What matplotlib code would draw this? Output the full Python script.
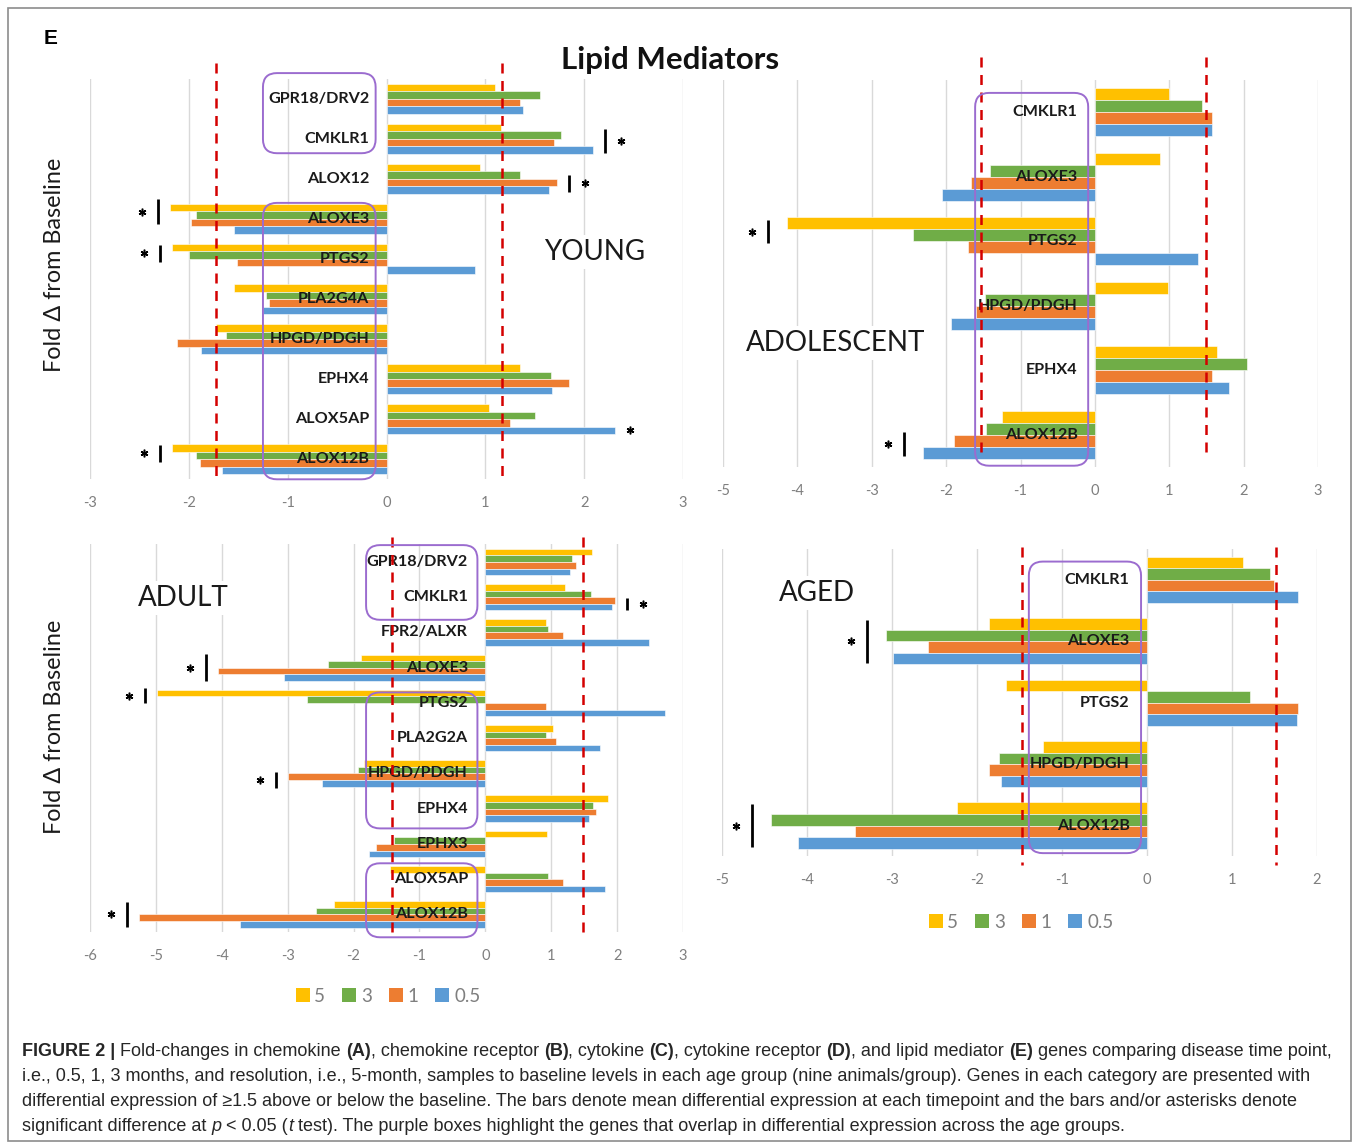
"""
    Lipid mediator fold changes per age group (Figure 2E)
"""
import numpy as np
import matplotlib
matplotlib.use("Agg")
from matplotlib import pyplot as plt
from matplotlib.patches import FancyBboxPatch, Patch, Rectangle
from matplotlib.transforms import IdentityTransform
from matplotlib.font_manager import FontProperties

W, H = 1360, 1145

SERIES = ["5", "3", "1", "0.5"]
COLORS = ["#FFC000", "#70AD47", "#ED7D31", "#5B9BD5"]

# --- YOUNG
young_genes = ["GPR18/DRV2", "CMKLR1", "ALOX12", "ALOXE3", "PTGS2", "PLA2G4A",
               "HPGD/PDGH", "EPHX4", "ALOX5AP", "ALOX12B"]
young_5 = [1.10, 1.16, 0.95, -2.19, -2.17, -1.54, -1.73, 1.35, 1.04, -2.17]
young_3 = [1.55, 1.77, 1.35, -1.93, -2.00, -1.22, -1.62, 1.66, 1.50, -1.93]
young_1 = [1.35, 1.69, 1.73, -1.98, -1.51, -1.19, -2.12, 1.85, 1.25, -1.89]
young_05 = [1.38, 2.09, 1.64, -1.54, 0.90, -1.25, -1.88, 1.67, 2.31, -1.66]
# significant genes: (gene, bar length in rows, 0 = star only, vertical shift)
young_sig = [("CMKLR1", 0.60, 0.06), ("ALOX12", 0.42, 0.11), ("ALOXE3", 0.62, -0.18),
             ("PTGS2", 0.42, -0.14), ("ALOX5AP", 0.0, 0.27), ("ALOX12B", 0.42, -0.15)]

# --- ADOLESCENT
adolescent_genes = ["CMKLR1", "ALOXE3", "PTGS2", "HPGD/PDGH", "EPHX4", "ALOX12B"]
adolescent_5 = [1.00, 0.88, -4.14, 0.98, 1.64, -1.25]
adolescent_3 = [1.44, -1.41, -2.45, -1.48, 2.05, -1.46]
adolescent_1 = [1.57, -1.67, -1.70, -1.60, 1.58, -1.89]
adolescent_05 = [1.57, -2.06, 1.38, -1.94, 1.81, -2.31]
adolescent_sig = [("PTGS2", 0.36, -0.15), ("ALOX12B", 0.37, 0.15)]

# --- ADULT
adult_genes = ["GPR18/DRV2", "CMKLR1", "FPR2/ALXR", "ALOXE3", "PTGS2", "PLA2G2A",
               "HPGD/PDGH", "EPHX4", "EPHX3", "ALOX5AP", "ALOX12B"]
adult_5 = [1.62, 1.21, 0.92, -1.88, -4.99, 1.02, -1.84, 1.86, 0.93, -1.45, -2.29]
adult_3 = [1.31, 1.61, 0.95, -2.39, -2.71, 0.92, -1.94, 1.63, -1.38, 0.95, -2.57]
adult_1 = [1.38, 1.97, 1.18, -4.05, 0.92, 1.07, -3.00, 1.68, -1.66, 1.18, -5.26]
adult_05 = [1.29, 1.92, 2.48, -3.05, 2.73, 1.74, -2.48, 1.58, -1.77, 1.82, -3.72]
adult_sig = [("CMKLR1", 0.33, 0.19), ("ALOXE3", 0.76, 0.0), ("PTGS2", 0.43, -0.2),
             ("HPGD/PDGH", 0.45, 0.18), ("ALOX12B", 0.73, 0.0)]

# --- AGED
aged_genes = ["CMKLR1", "ALOXE3", "PTGS2", "HPGD/PDGH", "ALOX12B"]
aged_5 = [1.13, -1.86, -1.66, -1.22, -2.24]
aged_3 = [1.45, -3.07, 1.21, -1.74, -4.42]
aged_1 = [1.49, -2.58, 1.78, -1.86, -3.43]
aged_05 = [1.78, -2.99, 1.76, -1.72, -4.11]
aged_sig = [("ALOXE3", 0.69, 0.0), ("ALOX12B", 0.69, 0.0)]

CAPTION = [
    [("FIGURE 2 | ", "bold", "normal"), ("Fold-changes in chemokine ", "normal", "normal"),
     ("(A)", "bold", "normal"), (", chemokine receptor ", "normal", "normal"),
     ("(B)", "bold", "normal"), (", cytokine ", "normal", "normal"),
     ("(C)", "bold", "normal"), (", cytokine receptor ", "normal", "normal"),
     ("(D)", "bold", "normal"), (", and lipid mediator ", "normal", "normal"),
     ("(E)", "bold", "normal"), (" genes comparing disease time point,", "normal", "normal")],
    [("i.e., 0.5, 1, 3 months, and resolution, i.e., 5-month, samples to baseline levels in each "
      "age group (nine animals/group). Genes in each category are presented with", "normal", "normal")],
    [("differential expression of \u22651.5 above or below the baseline. The bars denote mean "
      "differential expression at each timepoint and the bars and/or asterisks denote", "normal", "normal")],
    [("significant difference at ", "normal", "normal"), ("p", "normal", "italic"),
     (" < 0.05 (", "normal", "normal"), ("t", "normal", "italic"),
     (" test). The purple boxes highlight the genes that overlap in differential expression "
      "across the age groups.", "normal", "normal")],
]

plt.rcParams["font.family"] = ["Lato", "DejaVu Sans"]
plt.rcParams["axes.unicode_minus"] = False

RED = "#D40000"
PURPLE = "#9B6CCF"


def px_rect(left, top, right, bottom):
    return [left / W, 1 - bottom / H, (right - left) / W, (bottom - top) / H]


def draw_panel(fig, rect_px, xlim, genes, values, sig, boxes, box_x, cutoffs,
               dash_rows, sig_gap):
    ax = fig.add_axes(px_rect(*rect_px))
    n = len(genes)
    rows = np.arange(n)
    bar_h = 0.75 / 4
    for i, (vals, color) in enumerate(zip(values, COLORS)):
        ax.barh(rows - 0.375 + (i + 0.5) * bar_h, vals, height=bar_h, color=color,
                edgecolor="white", linewidth=0.4, zorder=2)

    ax.set_xlim(*xlim)
    ax.set_ylim(n - 0.5, -0.5)
    ax.set_xticks(np.arange(xlim[0], xlim[1] + 1))
    ax.set_yticks([])
    ax.tick_params(axis="x", length=0, pad=12, labelsize=10.5, labelcolor="#7F7F7F")
    for s in ax.spines.values():
        s.set_visible(False)
    ax.grid(axis="x", color="#D9D9D9", lw=1.0, zorder=0)
    ax.set_axisbelow(True)

    for r, g in enumerate(genes):
        ax.annotate(g, xy=(0, r), xytext=(-12.5, 0), textcoords="offset points",
                    ha="right", va="center", fontsize=11.6, fontweight="bold",
                    color="#1a1a1a", zorder=5)

    for x in cutoffs:
        ax.plot([x, x], dash_rows, color=RED, lw=1.8, ls=(0, (4, 3)),
                clip_on=False, zorder=6)

    # significance bar and asterisk
    px_unit = (rect_px[2] - rect_px[0]) / (xlim[1] - xlim[0])
    vals = np.array(values)
    for g, length, dy in sig:
        r = genes.index(g)
        col = vals[:, r]
        ext = col[np.argmax(np.abs(col))]
        side = np.sign(ext)
        yc = r + dy
        if length > 0:
            xb = ext + side * sig_gap / px_unit
            ax.plot([xb, xb], [yc - length / 2, yc + length / 2], color="black",
                    lw=2.0, solid_capstyle="butt", zorder=6, clip_on=False)
            xs = xb + side * 16 / px_unit
        else:
            xs = ext + side * 15 / px_unit
        ax.plot([xs], [yc], marker=(6, 2, 0), ms=5.5, mew=1.1, color="black",
                zorder=6, clip_on=False)

    # purple rounded boxes, drawn in pixel space so the corners stay round
    fig.canvas.draw()
    for top, bot in boxes:
        x0, y0 = ax.transData.transform((box_x[0], bot))
        x1, y1 = ax.transData.transform((box_x[1], top))
        fig.add_artist(FancyBboxPatch((x0, y0), x1 - x0, y1 - y0,
                                      boxstyle="round,pad=0,rounding_size=14",
                                      transform=IdentityTransform(), fill=False,
                                      ec=PURPLE, lw=1.4, zorder=7))
    return ax


def text_advance(renderer, s, prop):
    w1, _, _ = renderer.get_text_width_height_descent("x" + s + "x", prop, ismath=False)
    w2, _, _ = renderer.get_text_width_height_descent("xx", prop, ismath=False)
    return w1 - w2


fig = plt.figure(figsize=(W / 100, H / 100), dpi=100)
fig.patch.set_facecolor("white")

draw_panel(fig, (90, 78.7, 683, 479.3), (-3, 3), young_genes,
           [young_5, young_3, young_1, young_05], young_sig,
           [(-0.64, 1.36), (2.6, 9.5)], (-1.25, -0.11), (-1.73, 1.17),
           (-0.89, 9.47), 12)
draw_panel(fig, (723, 80, 1318, 467), (-5, 3), adolescent_genes,
           [adolescent_5, adolescent_3, adolescent_1, adolescent_05], adolescent_sig,
           [(-0.3, 5.48)], (-1.61, -0.09), (-1.53, 1.50), (-0.85, 5.34), 19)
draw_panel(fig, (90, 544.4, 683, 932), (-6, 3), adult_genes,
           [adult_5, adult_3, adult_1, adult_05], adult_sig,
           [(-0.48, 1.64), (3.7, 7.56), (8.55, 10.65)], (-1.81, -0.12),
           (-1.42, 1.48), (-0.71, 10.58), 12)
draw_panel(fig, (722, 549.3, 1317, 856.2), (-5, 2), aged_genes,
           [aged_5, aged_3, aged_1, aged_05], aged_sig,
           [(-0.3, 4.45)], (-1.39, -0.07), (-1.47, 1.52), (-0.54, 4.65), 19)

# panel names with white background over the grid
for name, (x, y) in [("YOUNG", (595, 252)), ("ADOLESCENT", (836, 343)),
                     ("ADULT", (183, 598)), ("AGED", (817, 593))]:
    fig.text(x / W, 1 - y / H, name, ha="center", va="center", fontsize=20,
             color="#1a1a1a", bbox=dict(fc="white", ec="none", pad=3))

for y in (265, 727):
    fig.text(55 / W, 1 - y / H, "Fold \u0394 from Baseline", rotation=90,
             ha="center", va="center", fontsize=16.8, color="#1a1a1a")

fig.text(670 / W, 1 - 60 / H, "Lipid Mediators", ha="center", va="center",
         fontsize=22.5, fontweight="bold", color="#111111")
fig.text(51 / W, 1 - 39 / H, "E", ha="center", va="center", fontsize=15,
         fontweight="bold", family="Liberation Sans")

handles = [Patch(facecolor=c, edgecolor="none") for c in COLORS]
for cx, cy in [(388, 996), (1021, 922)]:
    fig.legend(handles, SERIES, loc="center", bbox_to_anchor=(cx / W, 1 - cy / H),
               ncol=4, frameon=False, handlelength=0.75, handleheight=0.75,
               handletextpad=0.25, columnspacing=0.9, fontsize=13.5,
               labelcolor="#7F7F7F", borderpad=0)

# outer frame
fig.add_artist(Rectangle((8 / W, 1 - 1141 / H), (1351 - 8) / W, (1141 - 8) / H,
                         transform=fig.transFigure, fill=False, ec="#8C8C8C", lw=1.2))

# caption, segment by segment so bold and italic pieces can be mixed
renderer = fig.canvas.get_renderer()
size = 11.7
first_w = sum(text_advance(renderer, s, FontProperties(family="Liberation Sans",
                                                        weight=wt, style=st, size=size))
              for s, wt, st in CAPTION[0])
size = size * 1316 / first_w
for li, line in enumerate(CAPTION):
    x = 22
    y = 1056 + li * 25
    for s, wt, st in line:
        prop = FontProperties(family="Liberation Sans", weight=wt, style=st, size=size)
        fig.text(x / W, 1 - y / H, s, fontproperties=prop, va="baseline",
                 ha="left", color="#262626")
        x += text_advance(renderer, s, prop)

fig.savefig("out.png", dpi=100, facecolor="white")
